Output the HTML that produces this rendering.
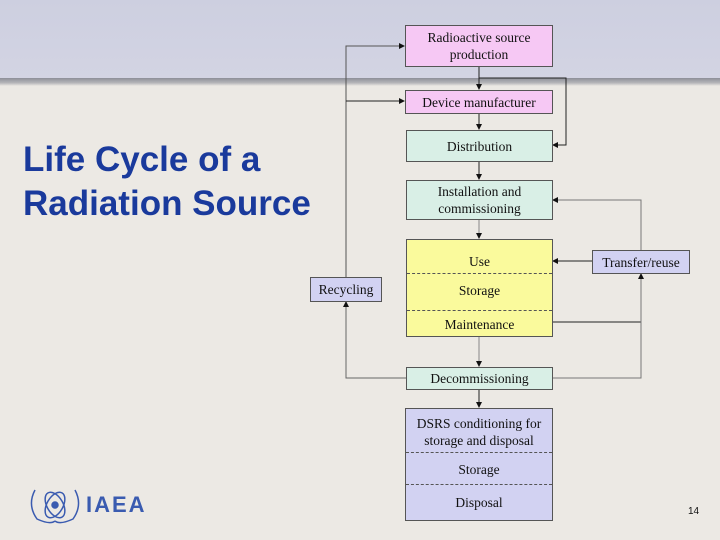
<!DOCTYPE html>
<html><head><meta charset="utf-8"><style>
body{margin:0;width:720px;height:540px;overflow:hidden;position:relative;background:#ece9e4;font-family:"Liberation Serif",serif;}
.hdr{position:absolute;left:0;top:0;width:720px;height:80px;background:linear-gradient(#cdcfe0,#d3d4e3);}
.band{position:absolute;left:0;top:78px;width:720px;height:8px;background:linear-gradient(#8d8f99,#b5b5b8 60%,#ece9e4);}
.b{position:absolute;box-sizing:border-box;border:1px solid #555;text-align:center;font-size:13.5px;color:#111;display:flex;align-items:center;justify-content:center;line-height:17px;}
.pink{background:#f6c8f4}.mint{background:#d9efe6}.yel{background:#fafa9c}.lav{background:#d2d2f2}
.t{position:absolute;left:0;width:100%;text-align:center;font-size:13.5px;}
.title{position:absolute;left:23px;top:138px;font-family:"Liberation Sans",sans-serif;font-weight:bold;font-size:35px;line-height:44px;color:#1a3a9c;white-space:nowrap;}
</style></head><body>
<div class="hdr"></div><div class="band"></div>
<div class="title">Life Cycle of a<br>Radiation Source</div>
<svg style="position:absolute;left:0;top:0" width="720" height="540">
<defs><marker id="a" markerWidth="6" markerHeight="6" refX="5" refY="3" orient="auto"><path d="M0,0L6,3L0,6z" fill="#111"/></marker></defs>
<g stroke="#222" stroke-width="1" fill="none">
<path d="M479,66V89" marker-end="url(#a)"/>
<path d="M479,113V129" marker-end="url(#a)"/>
<path d="M479,161V179" marker-end="url(#a)"/>
<path d="M479,219V238" stroke="#888" marker-end="url(#a)"/>
<path d="M479,336V366" stroke="#888" marker-end="url(#a)"/>
<path d="M479,389V407" marker-end="url(#a)"/>
<path d="M479,78H566V145H553" marker-end="url(#a)"/>
<path d="M346,277V46H404" stroke="#555" marker-end="url(#a)"/>
<path d="M346,101H404" marker-end="url(#a)"/>
<path d="M406,378H346V302" stroke="#666" marker-end="url(#a)"/>
<path d="M641,250V200H553" stroke="#777" marker-end="url(#a)"/>
<path d="M592,261H553" marker-end="url(#a)"/>
<path d="M552,322H641"/>
<path d="M552,378H641V274" stroke="#777" marker-end="url(#a)"/>
</g>
<g transform="translate(55,505)" stroke="#3a5bb0" fill="none" stroke-width="1.5">
<path d="M-20,-15 Q-28,0 -18,14 Q-5,20 0,16"/><path d="M20,-15 Q28,0 18,14 Q5,20 0,16"/>
<ellipse rx="8" ry="14" transform="rotate(30)"/><ellipse rx="8" ry="14" transform="rotate(-30)"/><circle r="3" fill="#3a5bb0"/>
</g>
</svg>
<div style="position:absolute;left:86px;top:492px;font-family:'Liberation Sans',sans-serif;font-weight:bold;font-size:22px;color:#3a5bb0;letter-spacing:2px">IAEA</div>
<div style="position:absolute;left:688px;top:506px;font-family:'Liberation Sans',sans-serif;font-size:10px;color:#111">14</div>
<div class="b pink" style="left:405px;top:25px;width:148px;height:42px">Radioactive source<br>production</div>
<div class="b pink" style="left:405px;top:90px;width:148px;height:24px">Device manufacturer</div>
<div class="b mint" style="left:406px;top:130px;width:147px;height:32px">Distribution</div>
<div class="b mint" style="left:406px;top:180px;width:147px;height:40px">Installation and<br>commissioning</div>
<div class="b yel" style="left:406px;top:239px;width:147px;height:98px;display:block">
<div class="t" style="top:13px">Use</div>
<div style="position:absolute;left:0;right:0;top:33px;border-top:1px dashed #555"></div>
<div class="t" style="top:42px">Storage</div>
<div style="position:absolute;left:0;right:0;top:70px;border-top:1px dashed #555"></div>
<div class="t" style="top:76px">Maintenance</div></div>
<div class="b lav" style="left:310px;top:277px;width:72px;height:25px">Recycling</div>
<div class="b lav" style="left:592px;top:250px;width:98px;height:24px">Transfer/reuse</div>
<div class="b mint" style="left:406px;top:367px;width:147px;height:23px">Decommissioning</div>
<div class="b lav" style="left:405px;top:408px;width:148px;height:113px;display:block">
<div class="t" style="top:6px;line-height:17px">DSRS conditioning for<br>storage and disposal</div>
<div style="position:absolute;left:0;right:0;top:43px;border-top:1px dashed #555"></div>
<div class="t" style="top:52px">Storage</div>
<div style="position:absolute;left:0;right:0;top:75px;border-top:1px dashed #555"></div>
<div class="t" style="top:85px">Disposal</div></div>
</body></html>
